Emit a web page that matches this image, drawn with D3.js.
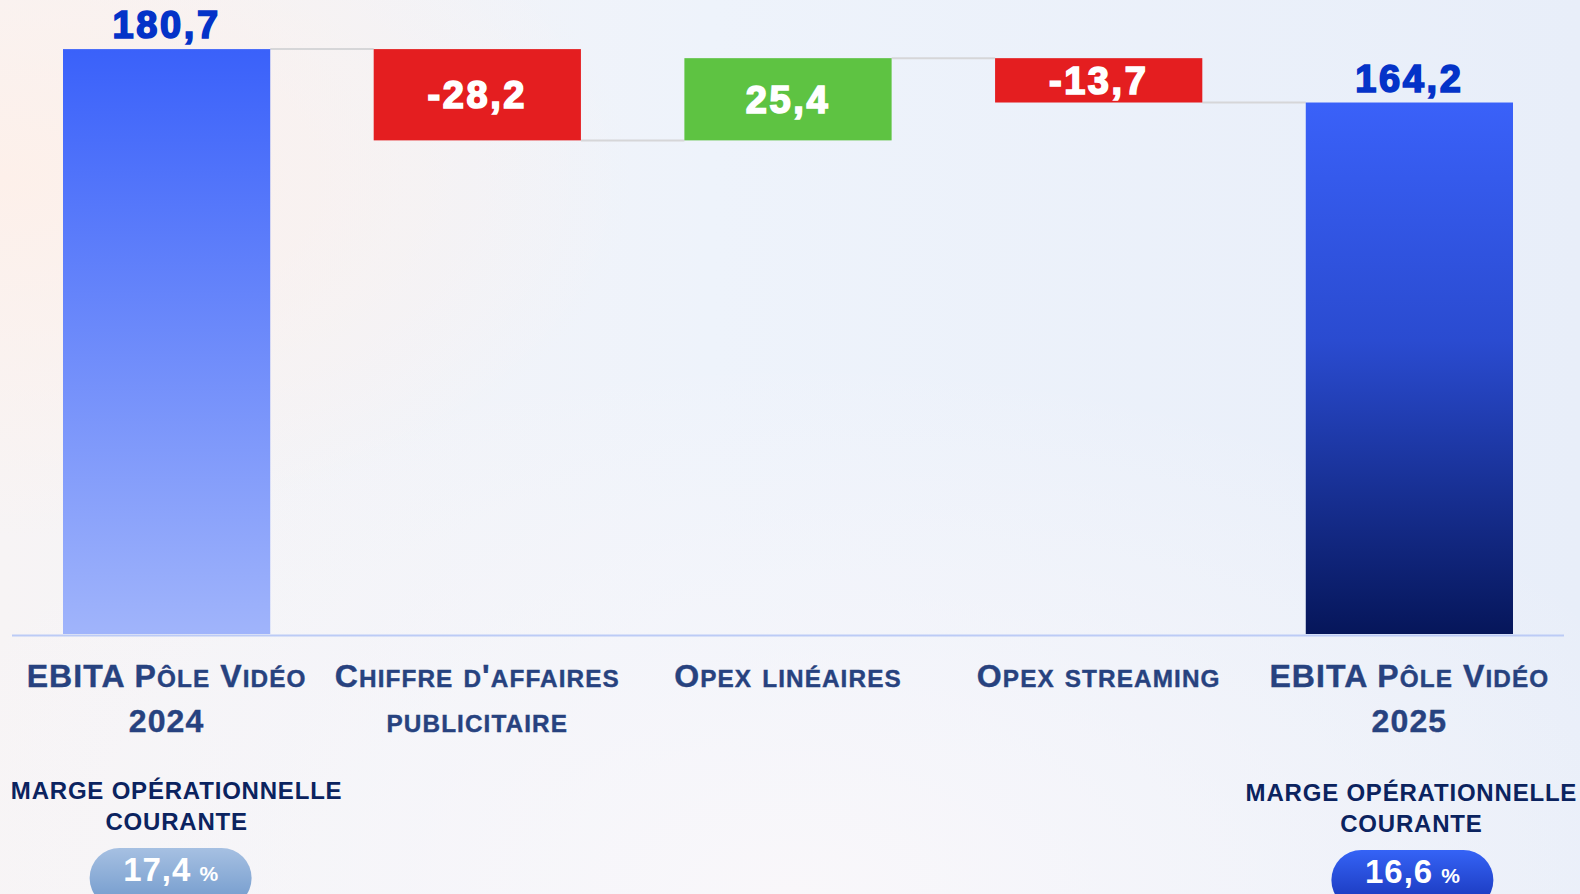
<!DOCTYPE html>
<html>
<head>
<meta charset="utf-8">
<script src="https://cdn.jsdelivr.net/npm/d3@7"></script>
<style>
  html, body { margin: 0; padding: 0; overflow: hidden; }
  #wrap { width: 1580px; height: 894px; }
</style>
</head>
<body>
<div id="wrap"></div>
<script>
// waterfall data
var categories = ['ebita2024', 'caPub', 'opexLin', 'opexStream', 'ebita2025'];
var deltas = [180.7, -28.2, 25.4, -13.7, 164.2];
var kinds = ['total', 'delta', 'delta', 'delta', 'total'];
var labelLine1 = ['EBITA Pôle Vidéo', "Chiffre d'affaires", 'Opex linéaires', 'Opex streaming', 'EBITA Pôle Vidéo'];
var labelLine2 = ['2024', 'publicitaire', '', '', '2025'];
var margins = ['17,4', '', '', '', '16,6'];

var width = 1580,
    height = 894;

var svg = d3.select('#wrap').append('svg')
      .attr('width', width)
      .attr('height', height);

var defs = svg.append('defs');

// background gradients
var bg = defs.append('linearGradient').attr('id', 'bg')
  .attr('x1', 0).attr('y1', 0).attr('x2', 1).attr('y2', 0);
bg.append('stop').attr('offset', 0).attr('stop-color', '#f7f4f5');
bg.append('stop').attr('offset', 0.45).attr('stop-color', '#eef3fb');
bg.append('stop').attr('offset', 1).attr('stop-color', '#e8eef9');

var warm = defs.append('radialGradient').attr('id', 'warm')
  .attr('cx', 0).attr('cy', 0.2).attr('r', 0.4);
warm.append('stop').attr('offset', 0).attr('stop-color', '#fdf0ea').attr('stop-opacity', 1);
warm.append('stop').attr('offset', 1).attr('stop-color', '#fdf0ea').attr('stop-opacity', 0);

var low = defs.append('radialGradient').attr('id', 'low')
  .attr('cx', 0.5).attr('cy', 1).attr('r', 0.6);
low.append('stop').attr('offset', 0).attr('stop-color', '#f9f7fa').attr('stop-opacity', 1);
low.append('stop').attr('offset', 1).attr('stop-color', '#f9f7fa').attr('stop-opacity', 0);

svg.append('rect').attr('width', width).attr('height', height).attr('fill', 'url(#bg)');
svg.append('rect').attr('width', width).attr('height', height).attr('fill', 'url(#low)');
svg.append('rect').attr('width', width).attr('height', height).attr('fill', 'url(#warm)');

// bar gradients
var g1 = defs.append('linearGradient').attr('id', 'tot0')
  .attr('x1', 0).attr('y1', 0).attr('x2', 0).attr('y2', 1);
g1.append('stop').attr('offset', 0).attr('stop-color', '#3a61fa');
g1.append('stop').attr('offset', 1).attr('stop-color', '#a0b4fb');

var g2 = defs.append('linearGradient').attr('id', 'tot4')
  .attr('x1', 0).attr('y1', 0).attr('x2', 0).attr('y2', 1);
g2.append('stop').attr('offset', 0).attr('stop-color', '#3a61f9');
g2.append('stop').attr('offset', 0.45).attr('stop-color', '#2a4bd0');
g2.append('stop').attr('offset', 1).attr('stop-color', '#06165a');

var p1 = defs.append('linearGradient').attr('id', 'pill0')
  .attr('x1', 0).attr('y1', 0).attr('x2', 0).attr('y2', 1);
p1.append('stop').attr('offset', 0).attr('stop-color', '#a6c0e2');
p1.append('stop').attr('offset', 1).attr('stop-color', '#6f98cb');

var p2 = defs.append('linearGradient').attr('id', 'pill4')
  .attr('x1', 0).attr('y1', 0).attr('x2', 0).attr('y2', 1);
p2.append('stop').attr('offset', 0).attr('stop-color', '#3563f6');
p2.append('stop').attr('offset', 1).attr('stop-color', '#1632b4');

// running totals
var bars = [];
var run = 0;
for (var i = 0; i < categories.length; i++) {
  var v = deltas[i];
  if (kinds[i] == 'total') {
    bars.push({key: categories[i], i: i, v: v, lo: 0, hi: v, end: v});
    run = v;
  } else {
    var start = run;
    run = run + v;
    bars.push({key: categories[i], i: i, v: v, lo: Math.min(start, run), hi: Math.max(start, run), end: run});
  }
}

var x = d3.scaleBand()
      .domain(categories)
      .range([63, 1513])
      .paddingInner(0.333),
    y = d3.scaleLinear()
      .domain([0, 190])
      .range([634, 19]);

function fmt(v) {
  return (v < 0 ? '-' : '') + Math.abs(v).toFixed(1).replace('.', ',');
}

function barFill(d) {
  if (kinds[d.i] == 'total') return 'url(#tot' + d.i + ')';
  return d.v < 0 ? '#e41e20' : '#5ec342';
}

// connectors
svg.selectAll('.conn')
  .data(bars.slice(0, -1))
  .enter().append('line')
    .attr('class', 'conn')
    .attr('x1', function(d){return x(d.key) + x.bandwidth();})
    .attr('x2', function(d){return x(categories[d.i + 1]);})
    .attr('y1', function(d){return y(d.end);})
    .attr('y2', function(d){return y(d.end);})
    .attr('stroke', '#d6d6d8')
    .attr('stroke-width', 2);

svg.selectAll('.bar')
  .data(bars)
  .enter().append('rect')
    .attr('class', 'bar')
    .attr('x', function(d){return x(d.key);})
    .attr('width', x.bandwidth())
    .attr('y', function(d){return y(d.hi);})
    .attr('height', function(d){return y(d.lo) - y(d.hi);})
    .attr('fill', barFill);

// baseline
svg.append('line')
  .attr('x1', 12).attr('x2', 1564)
  .attr('y1', y(0) + 1.5).attr('y2', y(0) + 1.5)
  .attr('stroke', '#bccbf6')
  .attr('stroke-width', 2);

// value labels
svg.selectAll('.val')
  .data(bars)
  .enter().append('text')
    .attr('class', 'val')
    .attr('x', function(d){return x(d.key) + x.bandwidth() / 2;})
    .attr('y', function(d){
      if (kinds[d.i] == 'total') return y(d.hi) - 11;
      return (y(d.hi) + y(d.lo)) / 2 + 13.5;
    })
    .attr('text-anchor', 'middle')
    .attr('font-family', 'Liberation Sans, Arial, sans-serif')
    .attr('font-weight', 'bold')
    .attr('font-size', 38)
    .attr('letter-spacing', 2.6)
    .attr('fill', function(d){return kinds[d.i] == 'total' ? '#0433c8' : '#ffffff';})
    .attr('stroke', function(d){return kinds[d.i] == 'total' ? '#0433c8' : '#ffffff';})
    .attr('stroke-width', 1.7)
    .text(function(d){return fmt(d.v);});

// small caps labels, built by hand
function smallCaps(sel, str, size) {
  var parts = str.match(/([a-zàâäéèêëîïôöûüç]+|[^a-zàâäéèêëîïôöûüç]+)/g) || [];
  parts.forEach(function(p){
    var isLow = p === p.toLowerCase() && p !== p.toUpperCase();
    sel.append('tspan')
      .attr('font-size', isLow ? size * 0.76 : size)
      .text(p.toUpperCase());
  });
}

var lab = svg.selectAll('.cat')
  .data(bars)
  .enter().append('g')
    .attr('class', 'cat')
    .attr('transform', function(d){return 'translate(' + (x(d.key) + x.bandwidth() / 2) + ',0)';});

lab.each(function(d){
  var g = d3.select(this);
  var t1 = g.append('text')
    .attr('y', 687)
    .attr('text-anchor', 'middle')
    .attr('font-family', 'Liberation Sans, Arial, sans-serif')
    .attr('font-weight', 'bold')
    .attr('letter-spacing', 1.1)
    .attr('stroke', '#27427f')
    .attr('stroke-width', 0.4)
    .attr('fill', '#27427f');
  smallCaps(t1, labelLine1[d.i], 32);
  if (labelLine2[d.i]) {
    var t2 = g.append('text')
      .attr('y', 732)
      .attr('text-anchor', 'middle')
      .attr('font-family', 'Liberation Sans, Arial, sans-serif')
      .attr('font-weight', 'bold')
      .attr('letter-spacing', 1.1)
      .attr('stroke', '#27427f')
      .attr('stroke-width', 0.4)
      .attr('fill', '#27427f');
    smallCaps(t2, labelLine2[d.i], 32);
  }
});

// margin blocks under the totals
var mg = svg.selectAll('.marge')
  .data(bars.filter(function(d){return margins[d.i];}))
  .enter().append('g')
    .attr('class', 'marge')
    .attr('transform', function(d){
      var dy = d.i == 0 ? 0 : 2;
      return 'translate(' + (x(d.key) + x.bandwidth() / 2) + ',' + dy + ')';
    });

mg.append('text')
  .attr('x', function(d){return d.i == 0 ? 10 : 2;})
  .attr('y', 799)
  .attr('text-anchor', 'middle')
  .attr('font-family', 'Liberation Sans, Arial, sans-serif')
  .attr('font-weight', 'bold')
  .attr('font-size', 24)
  .attr('letter-spacing', 0.8)
  .attr('fill', '#0b235f')
  .text('MARGE OPÉRATIONNELLE');

mg.append('text')
  .attr('x', function(d){return d.i == 0 ? 10 : 2;})
  .attr('y', 830)
  .attr('text-anchor', 'middle')
  .attr('font-family', 'Liberation Sans, Arial, sans-serif')
  .attr('font-weight', 'bold')
  .attr('font-size', 24)
  .attr('letter-spacing', 0.8)
  .attr('fill', '#0b235f')
  .text('COURANTE');

mg.append('rect')
  .attr('x', function(d){return (d.i == 0 ? 4 : 3) - 81;})
  .attr('y', 848)
  .attr('width', 162)
  .attr('height', 60)
  .attr('rx', 30)
  .attr('fill', function(d){return 'url(#pill' + d.i + ')';});

var pt = mg.append('text')
  .attr('x', function(d){return d.i == 0 ? 4 : 3;})
  .attr('y', 881)
  .attr('text-anchor', 'middle')
  .attr('font-family', 'Liberation Sans, Arial, sans-serif')
  .attr('font-weight', 'bold')
  .attr('fill', '#ffffff');
pt.append('tspan')
  .attr('font-size', 33)
  .attr('letter-spacing', 1)
  .text(function(d){return margins[d.i];});
pt.append('tspan')
  .attr('font-size', 21)
  .attr('dx', 8)
  .text('%');
</script>
</body>
</html>
